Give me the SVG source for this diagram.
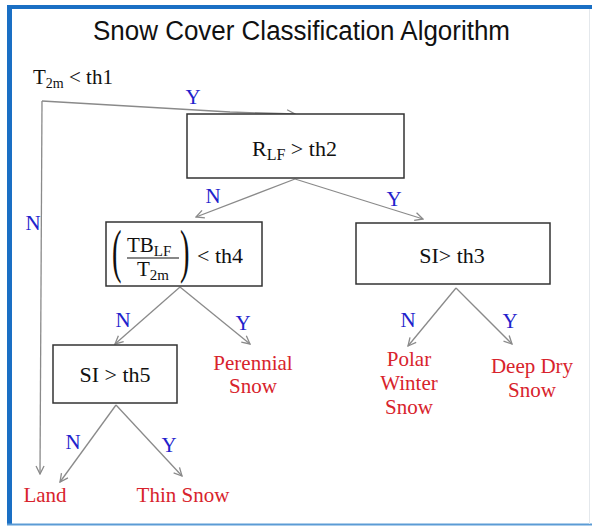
<svg xmlns="http://www.w3.org/2000/svg" width="592" height="526" viewBox="0 0 592 526">
<defs>
<style>
.t{font-family:"Liberation Serif","Times New Roman",serif;fill:#111;}
.lbl{font-family:"Liberation Serif","Times New Roman",serif;fill:#2222cc;font-size:21px;text-anchor:middle;}
.leaf{font-family:"Liberation Serif","Times New Roman",serif;fill:#d8232c;font-size:21px;text-anchor:middle;}
.box{fill:#fff;stroke:#333;stroke-width:1.5;}
.con{stroke:#8a8a8a;stroke-width:1.3;fill:none;marker-end:url(#arr);}
</style>
<marker id="arr" viewBox="0 0 10 10" refX="9" refY="5" markerWidth="10" markerHeight="10" markerUnits="userSpaceOnUse" orient="auto">
<path d="M1,1 L9,5 L1,9" fill="none" stroke="#8a8a8a" stroke-width="1.3"/>
</marker>
</defs>
<rect width="592" height="526" fill="#fff"/>
<g id="frame">
<line x1="9.5" y1="5" x2="9.5" y2="524" stroke="#1a6fc4" stroke-width="5"/>
<line x1="7" y1="7" x2="592" y2="7" stroke="#1a6fc4" stroke-width="4"/>
<line x1="7" y1="524.5" x2="592" y2="524.5" stroke="#5b9bd5" stroke-width="2"/>
<line x1="589.5" y1="9" x2="589.5" y2="524" stroke="#e4e8ec" stroke-width="1"/>
</g>
<text id="title" x="93" y="40" font-family="'Liberation Sans',Arial,sans-serif" font-size="27" fill="#111" textLength="417" lengthAdjust="spacingAndGlyphs">Snow Cover Classification Algorithm</text>

<g id="connectors">
<polyline class="con" points="42,101 230,112 295,114"/>
<line class="con" x1="42" y1="101" x2="40" y2="474"/>
<line class="con" x1="295" y1="179" x2="196" y2="217"/>
<line class="con" x1="295" y1="179" x2="423" y2="219"/>
<line class="con" x1="180" y1="287" x2="115" y2="344"/>
<line class="con" x1="180" y1="287" x2="250" y2="344"/>
<line class="con" x1="456" y1="288" x2="408" y2="346"/>
<line class="con" x1="456" y1="288" x2="512" y2="344"/>
<line class="con" x1="116" y1="405" x2="60" y2="482"/>
<line class="con" x1="116" y1="405" x2="182" y2="476"/>
<text class="lbl" x="193" y="104">Y</text>
<text class="lbl" x="33" y="230">N</text>
<text class="lbl" x="213" y="203">N</text>
<text class="lbl" x="394" y="206">Y</text>
<text class="lbl" x="123" y="327">N</text>
<text class="lbl" x="243" y="330">Y</text>
<text class="lbl" x="408" y="327">N</text>
<text class="lbl" x="510" y="328">Y</text>
<text class="lbl" x="73" y="449">N</text>
<text class="lbl" x="169" y="452">Y</text>
</g>

<g id="start">
<text class="t" x="33" y="84" font-size="21">T<tspan font-size="14" dy="4">2m</tspan><tspan dy="-4"> &lt; th1</tspan></text>
</g>

<g id="node-rlf">
<rect class="box" x="187" y="114" width="217" height="64"/>
<text class="t" x="252" y="156" font-size="22">R<tspan font-size="16" dy="4">LF</tspan><tspan dy="-4"> &gt; th2</tspan></text>
</g>

<g id="node-tb">
<rect class="box" x="106" y="222" width="156" height="64"/>
<text class="t" transform="translate(112,271) scale(0.62,1.3)" font-size="46">(</text>
<text class="t" transform="translate(180,271) scale(0.62,1.3)" font-size="46">)</text>
<text class="t" x="127" y="252" font-size="21">TB<tspan font-size="15" dy="4">LF</tspan></text>
<line x1="127" y1="258" x2="179" y2="258" stroke="#111" stroke-width="1.2"/>
<text class="t" x="137" y="276" font-size="21">T<tspan font-size="15" dy="4">2m</tspan></text>
<text class="t" x="197" y="263" font-size="22">&lt; th4</text>
</g>

<g id="node-si3">
<rect class="box" x="356" y="223" width="194" height="61"/>
<text class="t" x="452" y="263" font-size="22" text-anchor="middle">SI&gt; th3</text>
</g>

<g id="node-si5">
<rect class="box" x="53" y="345" width="124" height="58"/>
<text class="t" x="115" y="382" font-size="22" text-anchor="middle">SI &gt; th5</text>
</g>

<g id="leaf-perennial">
<text class="leaf" x="253" y="370">Perennial</text>
<text class="leaf" x="253" y="393">Snow</text>
</g>
<g id="leaf-polar">
<text class="leaf" x="409" y="366">Polar</text>
<text class="leaf" x="409" y="390">Winter</text>
<text class="leaf" x="409" y="414">Snow</text>
</g>
<g id="leaf-deepdry">
<text class="leaf" x="532" y="373">Deep Dry</text>
<text class="leaf" x="532" y="397">Snow</text>
</g>
<g id="leaf-land">
<text class="leaf" x="45" y="502">Land</text>
</g>
<g id="leaf-thin">
<text class="leaf" x="183" y="502">Thin Snow</text>
</g>
</svg>
